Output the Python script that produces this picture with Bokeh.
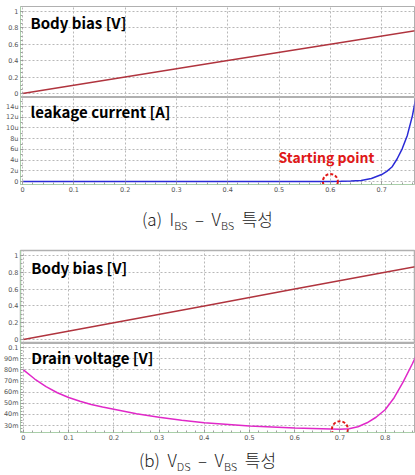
from bokeh.plotting import figure
from bokeh.layouts import column
from bokeh.models import Div, Label, FixedTicker, Range1d
from bokeh.embed import file_html
from bokeh.resources import INLINE
import numpy as np

# ---------------- data ----------------
# (a) I_BS - V_BS
vbs_bias_a = [0.0, 0.2, 0.4, 0.6, 0.8]
body_bias_a = [0.0, 0.2, 0.4, 0.6, 0.8]
vbs_leak = [0.0, 0.1, 0.2, 0.3, 0.4, 0.5, 0.6, 0.62, 0.64, 0.66, 0.68, 0.70,
            0.71, 0.72, 0.73, 0.74, 0.75, 0.76, 0.765, 0.77]
leak_uA = [0, 0, 0, 0, 0, 0, 0.01, 0.03, 0.08, 0.2, 0.55, 1.3,
           1.9, 2.7, 4.2, 6.1, 8.6, 12.3, 14.8, 17.5]
start_a_x = [0.6]
start_a_y = [0.0]

# (b) V_DS - V_BS
vbs_bias_b = [0.0, 0.2, 0.4, 0.6, 0.8, 0.9]
body_bias_b = [0.0, 0.2, 0.4, 0.6, 0.8, 0.9]
vbs_drain = [0.0, 0.025, 0.05, 0.075, 0.1, 0.125, 0.15, 0.175, 0.2, 0.25, 0.3,
             0.35, 0.4, 0.5, 0.6, 0.7, 0.72, 0.74, 0.76, 0.78, 0.8, 0.82,
             0.84, 0.86, 0.88]
drain_mV = [80, 71.8, 65, 59.5, 55.2, 51.8, 49, 46.6, 44.6, 40.6, 37.5,
            34.8, 32.5, 29.7, 27.8, 26.7, 27.2, 29.0, 32.5, 37.5, 44.2, 55.0,
            69.2, 85.3, 102]
start_b_x = [0.7]
start_b_y = [26.7]

# ticks / labels
x_ticks_a = [0, 0.1, 0.2, 0.3, 0.4, 0.5, 0.6, 0.7]
x_labels_a = ["0", "0.1", "0.2", "0.3", "0.4", "0.5", "0.6", "0.7"]
x_ticks_b = [0, 0.1, 0.2, 0.3, 0.4, 0.5, 0.6, 0.7, 0.8]
x_labels_b = ["0", "0.1", "0.2", "0.3", "0.4", "0.5", "0.6", "0.7", "0.8"]
bias_ticks = [0, 0.2, 0.4, 0.6, 0.8, 1]
bias_labels = ["0", "0.2", "0.4", "0.6", "0.8", "1"]
leak_ticks = [0, 2, 4, 6, 8, 10, 12, 14]
leak_labels = ["0", "2u", "4u", "6u", "8u", "10u", "12u", "14u"]
drain_ticks = [30, 40, 50, 60, 70, 80, 90, 100]
drain_labels = ["30m", "40m", "50m", "60m", "70m", "80m", "90m", "0.1"]

# ---------------- styles ----------------
W = 415
GRID = "#b8b8b8"
AXG = "#a9cfa9"
OUT = "#b0b0b0"
TICKF = "6.5px"
TITLEF = "Noto Sans CJK KR"


def make_fig(height, xr, yr, top=0, bottom=0, left=20):
    p = figure(width=W, height=height, x_range=Range1d(*xr), y_range=Range1d(*yr),
               output_backend="svg", toolbar_location=None,
               min_border_left=left, min_border_right=1,
               min_border_top=top, min_border_bottom=bottom)
    p.background_fill_color = "white"
    p.border_fill_color = "white"
    p.outline_line_color = OUT
    p.outline_line_width = 1
    for g in (p.xgrid, p.ygrid):
        g.grid_line_color = GRID
        g.grid_line_dash = "2 2"
        g.grid_line_width = 1
    for ax in (p.xaxis, p.yaxis):
        ax.axis_line_color = AXG
        ax.major_tick_line_color = "#909090"
        ax.minor_tick_line_color = "#a0a0a0"
        ax.major_tick_in = 3
        ax.major_tick_out = 0
        ax.minor_tick_in = 2
        ax.minor_tick_out = 0
        ax.major_label_text_font_size = TICKF
        ax.major_label_text_color = "#555555"
        ax.major_label_text_font = "DejaVu Sans"
        ax.major_label_standoff = 2
    return p


def set_yticks(p, ticks, labels, minor):
    p.yaxis.ticker = FixedTicker(ticks=ticks, minor_ticks=minor)
    p.yaxis.major_label_overrides = dict(zip(ticks, labels))


def set_xticks(p, ticks, labels, minor, show):
    p.xaxis.ticker = FixedTicker(ticks=ticks, minor_ticks=minor)
    p.xgrid.ticker = FixedTicker(ticks=ticks)
    p.xaxis.major_label_overrides = dict(zip(ticks, labels))
    if not show:
        p.xaxis.visible = False


def title(p, x, y, text, color="black", size="15px"):
    p.add_layout(Label(x=x, y=y, text=text, text_font=TITLEF, text_font_style="bold",
                       text_font_size=size, text_color=color, text_baseline="middle"))


minor_a = list(np.round(np.arange(0, 0.77, 0.02), 3))
minor_b = list(np.round(np.arange(0, 0.87, 0.02), 3))
bias_minor = list(np.round(np.arange(0, 1.05, 0.05), 3))
leak_minor = list(np.arange(0, 16, 1))
drain_minor = list(np.arange(25, 102, 2.5))

XR_A = (-0.0039, 0.764)
XR_B = (-0.0065, 0.865)

# (a) top: body bias
a1 = make_fig(97, XR_A, (-0.05, 1.06), top=6)
set_xticks(a1, x_ticks_a, x_labels_a, minor_a, False)
set_yticks(a1, bias_ticks, bias_labels, bias_minor)
a1.line(vbs_bias_a, body_bias_a, line_color="#b0343e", line_width=1.5)
title(a1, 0.0156, 0.86, "Body bias [V]")

# (a) bottom: leakage current
a2 = make_fig(100, XR_A, (-0.56, 15.68), bottom=13)
set_xticks(a2, x_ticks_a, x_labels_a, minor_a, True)
set_yticks(a2, leak_ticks, leak_labels, leak_minor)
a2.line(vbs_leak, leak_uA, line_color="#2a2ad6", line_width=1.5)
a2.scatter(start_a_x, start_a_y, size=15, marker="circle", fill_color=None,
           line_color="#e01818", line_width=2, line_dash="3 2")
title(a2, 0.0156, 13.0, "leakage current [A]")
title(a2, 0.499, 4.57, "Starting point", color="#e01818", size="14px")

cap_style = {"text-align": "center", "font-size": "17px", "font-family": "'Noto Sans CJK KR'",
             "font-weight": "300", "color": "#222222", "line-height": "22px", "width": "415px"}
sub = "<span style='font-size:11px; position:relative; top:4px'>"
cap_a = Div(text=f"(a)&nbsp;&nbsp;I{sub}BS</span>&nbsp;&nbsp;–&nbsp;&nbsp;V{sub}BS</span>&nbsp;&nbsp;특성",
            width=W, height=51, margin=(0, 0, 0, 0),
            styles=dict(cap_style, **{"padding-top": "11px"}))

# (b) top: body bias
b1 = make_fig(95, XR_B, (-0.048, 1.06), top=2, left=14)
b1.outline_line_width = 1.5
set_xticks(b1, x_ticks_b, x_labels_b, minor_b, False)
set_yticks(b1, bias_ticks, bias_labels, bias_minor)
b1.line(vbs_bias_b, body_bias_b, line_color="#b0343e", line_width=1.5)
title(b1, 0.0174, 0.863, "Body bias [V]")

# (b) bottom: drain voltage
b2 = make_fig(100, XR_B, (23.8, 103.7), bottom=11, left=14)
set_xticks(b2, x_ticks_b, x_labels_b, minor_b, True)
set_yticks(b2, drain_ticks, drain_labels, drain_minor)
b2.line(vbs_drain, drain_mV, line_color="#e028c8", line_width=1.5)
b2.scatter(start_b_x, start_b_y, size=16, marker="circle", fill_color=None,
           line_color="#e01818", line_width=2, line_dash="3 2")
title(b2, 0.0174, 91.1, "Drain voltage [V]")

cap_b = Div(text=f"(b)&nbsp;&nbsp;V{sub}DS</span>&nbsp;&nbsp;–&nbsp;&nbsp;V{sub}BS</span>&nbsp;&nbsp;특성",
            width=W, height=31, margin=(0, 0, 0, 0),
            styles=dict(cap_style, **{"padding-top": "6px"}))

layout = column(a1, a2, cap_a, b1, b2, cap_b, spacing=0)

open("out.html", "w").write(file_html(layout, INLINE))
